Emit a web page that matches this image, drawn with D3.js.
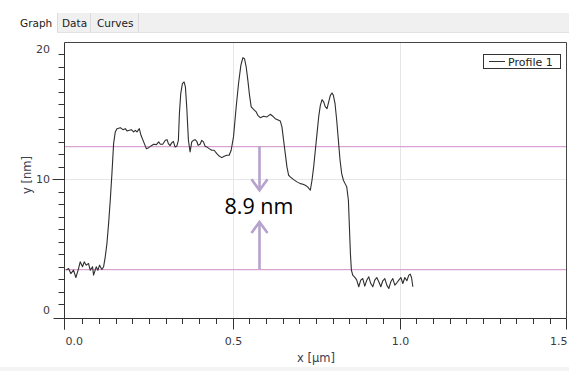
<!DOCTYPE html>
<html>
<head>
<meta charset="utf-8">
<script src="https://cdn.jsdelivr.net/npm/d3@7"></script>
<style>
  body { margin: 0; background: #fff; }
  svg { display: block; }
</style>
</head>
<body>
<div id="chart"></div>
<script>
// profile data, x in um, y in nm
var profileX = [0.002,0.009,0.016,0.024,0.031,0.039,0.044,0.051,0.056,0.062,0.069,0.074,0.081,0.084,0.092,0.097,0.102,0.109,0.114,
  0.119,0.124,0.129,0.134,0.139,0.144,0.149,0.154,0.164,0.172,0.179,0.184,0.191,0.197,0.204,0.209,0.214,0.221,0.226,0.234,0.242,
  0.249,0.256,0.264,0.272,0.279,0.284,0.291,0.299,0.304,0.308,0.313,0.318,0.323,0.328,0.333,0.338,0.341,0.345,0.350,0.355,0.359,
  0.363,0.368,0.373,0.378,0.383,0.388,0.393,0.397,0.403,0.408,0.413,0.418,0.423,0.430,0.438,0.445,0.453,0.461,0.468,0.475,0.483,
  0.490,0.496,0.503,0.511,0.518,0.525,0.531,0.536,0.541,0.546,0.551,0.556,0.561,0.566,0.571,0.576,0.583,0.593,0.603,0.613,0.621,
  0.628,0.635,0.643,0.648,0.653,0.658,0.663,0.668,0.673,0.683,0.693,0.703,0.711,0.718,0.725,0.733,0.738,0.743,0.748,0.753,0.758,
  0.763,0.768,0.773,0.778,0.783,0.788,0.793,0.798,0.802,0.807,0.812,0.817,0.822,0.827,0.832,0.837,0.842,0.847,0.850,0.853,0.856,
  0.860,0.867,0.872,0.878,0.884,0.890,0.896,0.902,0.908,0.914,0.920,0.926,0.932,0.938,0.944,0.950,0.956,0.962,0.968,0.974,0.980,
  0.986,0.992,0.998,1.004,1.010,1.016,1.022,1.028,1.032,1.036,1.040];
var profileY = [2.72,2.85,2.45,2.72,2.13,2.85,3.39,2.99,3.39,3.12,3.25,2.72,2.99,2.32,2.99,2.72,3.12,2.77,2.99,
  3.79,4.85,6.45,8.32,10.45,12.85,13.79,14.05,14.13,13.97,14.05,13.87,13.92,13.97,13.79,13.92,13.79,14.05,13.52,12.99,12.45,
  12.53,12.67,12.80,12.77,12.99,12.80,12.80,13.12,13.17,12.85,12.69,12.91,13.04,12.59,12.64,13.12,15.25,16.85,17.65,17.79,17.39,
  15.79,13.12,12.19,12.99,13.12,13.17,13.04,12.72,12.80,13.12,12.99,12.64,12.59,12.45,12.32,12.32,12.05,11.84,11.73,11.84,11.92,
  11.92,12.32,13.39,15.79,17.65,19.12,19.73,19.65,18.99,17.92,16.72,15.79,15.65,15.52,15.39,15.12,14.93,15.04,14.99,15.20,15.04,
  14.85,14.77,14.67,14.19,13.12,12.05,10.99,10.32,10.19,9.97,9.79,9.65,9.60,9.52,9.39,9.12,9.92,10.99,12.32,13.65,14.99,
  15.92,16.37,16.19,15.79,15.65,16.19,16.72,16.91,16.72,16.05,14.72,13.12,11.52,10.45,9.92,9.65,9.39,8.32,6.19,4.05,2.72,
  2.32,2.13,1.92,1.39,1.92,2.05,1.44,1.92,2.19,1.65,1.39,1.92,2.13,1.79,1.39,1.87,2.05,1.52,1.25,1.79,2.05,
  1.52,1.71,1.92,2.13,1.65,2.13,1.87,2.32,2.40,2.13,1.39];

var xMajorTicks = [0, 0.5, 1.0, 1.5];
var xTickLabels = ["0.0", "0.5", "1.0", "1.5"];
var yMajorTicks = [0, 10, 20];
var yTickLabels = ["0", "10", "20"];
var levelLines = [12.64, 2.8];     // the two pink reference levels
var stepLabel = "8.9 nm";
var stepX = 0.578;
var arrowTips = [9.12, 6.58];      // down arrow tip, up arrow tip
var tabs = ["Graph", "Data", "Curves"];
var seriesName = "Profile 1";

var W = 569, H = 371;
var pLeft = 64.5, pRight = 566.5, pTop = 42.5, pBottom = 318.5;

var svg = d3.select("#chart").append("svg")
    .attr("width", W)
    .attr("height", H)
    .style("font-family", "'DejaVu Sans', sans-serif");

svg.append("rect").attr("width", W).attr("height", H).style("fill", "#fff");

// tab strip
svg.append("rect")
    .attr("x", 57).attr("y", 13).attr("width", W - 57).attr("height", 19.5)
    .style("fill", "#f0f0f0");
svg.append("line")
    .attr("x1", 57).attr("x2", W).attr("y1", 32.5).attr("y2", 32.5)
    .style("stroke", "#e2e2e2");
var tabX = [20, 62, 97];
var tabSep = [57.5, 90.5, 138.5];
tabSep.forEach(function(s){
    svg.append("line")
        .attr("x1", s).attr("x2", s).attr("y1", 13).attr("y2", 32)
        .style("stroke", "#dcdcdc");
});
tabs.forEach(function(t, i){
    svg.append("text")
        .attr("x", tabX[i]).attr("y", 26.5)
        .style("font-size", "10.5px")
        .style("fill", "#1a1a1a")
        .text(t);
});

// bottom faint strip
svg.append("rect")
    .attr("x", 0).attr("y", 367).attr("width", W).attr("height", 4)
    .style("fill", "#f4f4f4");

var x = d3.scaleLinear().domain([-0.003, 1.5]).range([pLeft, pRight]);
var y = d3.scaleLinear().domain([-1.15, 20.95]).range([pBottom, pTop]);

// grid
xMajorTicks.slice(1, 3).forEach(function(v){
    svg.append("line")
        .attr("x1", Math.round(x(v)) + 0.5).attr("x2", Math.round(x(v)) + 0.5)
        .attr("y1", pTop).attr("y2", pBottom)
        .style("stroke", "#e6e6e6");
});
svg.append("line")
    .attr("x1", pLeft).attr("x2", pRight)
    .attr("y1", Math.round(y(10)) + 0.5).attr("y2", Math.round(y(10)) + 0.5)
    .style("stroke", "#e6e6e6");

// reference levels
levelLines.forEach(function(v){
    svg.append("line")
        .attr("x1", pLeft).attr("x2", pRight)
        .attr("y1", Math.round(y(v)) + 0.5).attr("y2", Math.round(y(v)) + 0.5)
        .style("stroke", "#d9a2d1")
        .style("stroke-width", 1.25);
});

// profile line
var pts = profileX.map(function(d, i){ return [d, profileY[i]]; });
var line = d3.line()
    .x(function(d){ return x(d[0]); })
    .y(function(d){ return y(d[1]); });
svg.append("path")
    .datum(pts)
    .attr("d", line)
    .style("fill", "none")
    .style("stroke", "#2e2e2e")
    .style("stroke-width", 1.1)
    .style("stroke-linejoin", "round");

// arrows
var ax = Math.round(x(stepX)) + 0.5;
var arrowColor = "#b5a2cd";
function arrow(fromV, tipV){
    var y0 = y(fromV), y1 = y(tipV);
    var dir = y1 > y0 ? 1 : -1;
    svg.append("line")
        .attr("x1", ax).attr("x2", ax).attr("y1", y0).attr("y2", y1)
        .style("stroke", arrowColor).style("stroke-width", 2.6);
    svg.append("path")
        .attr("d", "M" + (ax - 8) + "," + (y1 - dir * 11) + "L" + ax + "," + y1 + "L" + (ax + 8) + "," + (y1 - dir * 11))
        .style("fill", "none")
        .style("stroke", arrowColor)
        .style("stroke-width", 2.6);
}
arrow(levelLines[0], arrowTips[0]);
arrow(levelLines[1], arrowTips[1]);

svg.append("text")
    .attr("x", ax - 0.5).attr("y", y((arrowTips[0] + arrowTips[1]) / 2) + 7.5)
    .attr("text-anchor", "middle")
    .style("font-family", "'Open Sans', sans-serif")
    .style("font-size", "21.5px")
    .style("fill", "#000")
    .text(stepLabel);

// frame: top and right
svg.append("path")
    .attr("d", "M" + pLeft + "," + pTop + "H" + pRight + "V" + pBottom)
    .style("fill", "none")
    .style("stroke", "#444");

// x axis
svg.append("line")
    .attr("x1", pLeft - 11).attr("x2", pRight).attr("y1", pBottom).attr("y2", pBottom)
    .style("stroke", "#333");
var xMinor = d3.range(0, 31).map(function(i){ return i * 0.05; });
xMinor.forEach(function(v, i){
    var major = i % 10 == 0;
    var px = Math.round(x(v)) + 0.5;
    if (i == 0) px = pLeft;
    if (i == 30) px = pRight;
    svg.append("line")
        .attr("x1", px).attr("x2", px)
        .attr("y1", pBottom).attr("y2", pBottom + (major ? 11 : 5.5))
        .style("stroke", "#333");
});
xMajorTicks.forEach(function(v, i){
    var anchor = i == 0 ? "start" : (i == xMajorTicks.length - 1 ? "end" : "middle");
    svg.append("text")
        .attr("x", x(v) + (i == 0 ? 0 : 1)).attr("y", 344.5)
        .attr("text-anchor", anchor)
        .style("font-size", "11px")
        .style("fill", "#3a3a44")
        .text(xTickLabels[i]);
});
svg.append("text")
    .attr("x", 316).attr("y", 361.5)
    .attr("text-anchor", "middle")
    .style("font-size", "11.5px")
    .style("fill", "#3a4050")
    .text("x [\u00b5m]");

// y axis
svg.append("line")
    .attr("x1", pLeft).attr("x2", pLeft).attr("y1", pTop).attr("y2", pBottom + 11)
    .style("stroke", "#333");
d3.range(0, 21).forEach(function(v){
    var py = Math.round(y(v)) + 0.5;
    svg.append("line")
        .attr("x1", pLeft - (v == 10 ? 12 : 6)).attr("x2", pLeft)
        .attr("y1", py).attr("y2", py)
        .style("stroke", "#333");
});
yMajorTicks.forEach(function(v, i){
    var base = i == 0 ? "hanging" : (i == yMajorTicks.length - 1 ? "auto" : "central");
    var dy = i == 0 ? 2 : (i == yMajorTicks.length - 1 ? -1 : 0);
    svg.append("text")
        .attr("x", 50).attr("y", y(v) + dy)
        .attr("text-anchor", "end")
        .attr("dominant-baseline", base)
        .style("font-size", "11px")
        .style("fill", "#3a3a44")
        .text(yTickLabels[i]);
});
svg.append("text")
    .attr("transform", "translate(31,175) rotate(-90)")
    .attr("text-anchor", "middle")
    .style("font-size", "11.5px")
    .style("fill", "#3a4050")
    .text("y [nm]");

// legend
svg.append("rect")
    .attr("x", 483.5).attr("y", 54.5).attr("width", 77).attr("height", 14)
    .style("fill", "#fff")
    .style("stroke", "#333");
svg.append("line")
    .attr("x1", 489).attr("x2", 505).attr("y1", 61.5).attr("y2", 61.5)
    .style("stroke", "#333");
svg.append("text")
    .attr("x", 508).attr("y", 65.5)
    .style("font-size", "11px")
    .style("fill", "#222")
    .text(seriesName);
</script>
</body>
</html>
